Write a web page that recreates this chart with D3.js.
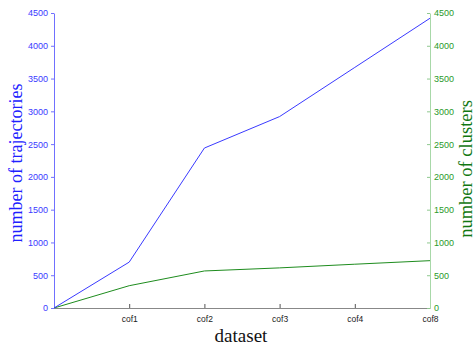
<!DOCTYPE html>
<html><head><meta charset="utf-8">
<script src="https://cdn.jsdelivr.net/npm/d3@7"></script>
<style>body{margin:0;background:#fff}svg{display:block}</style>
</head><body>
<script>
const categories = ["", "cof1", "cof2", "cof3", "cof4", "cof8"];
const trajectories = [0, 700, 2440, 2920, 3670, 4420];
const clusters = [0, 340, 565, 612, 668, 722];
const yTicks = [0, 500, 1000, 1500, 2000, 2500, 3000, 3500, 4000, 4500];

const W = 475, H = 345;
const m = {left: 54, right: 45, top: 13, bottom: 37};
const svg = d3.select("body").append("svg").attr("width", W).attr("height", H);

const x = d3.scalePoint().domain(categories).range([m.left, W - m.right]);
const yL = d3.scaleLinear().domain([0, 4500]).range([H - m.bottom, m.top]);
const yR = d3.scaleLinear().domain([0, 4500]).range([H - m.bottom, m.top]);

const tickFont = "'Liberation Sans', Arial, sans-serif";
const blue = "#3a3aff", green = "#1e8c1e";

// bottom axis
const gx = svg.append("g").attr("transform", `translate(0,${H - m.bottom})`)
  .call(d3.axisBottom(x).tickSize(-4).tickPadding(8).tickSizeOuter(0));
gx.select(".domain").attr("stroke", "#888");
gx.selectAll(".tick line").attr("stroke", "#555");
gx.selectAll(".tick").filter(d => d === "").remove();
gx.selectAll("text").attr("font-family", tickFont).attr("font-size", 8.5).attr("fill", "#222");

// left axis
const gl = svg.append("g").attr("transform", `translate(${m.left},0)`)
  .call(d3.axisLeft(yL).tickValues(yTicks).tickFormat(d3.format("d")).tickSize(3).tickPadding(3).tickSizeOuter(0));
gl.select(".domain").attr("stroke", "#7070ff");
gl.selectAll(".tick line").attr("stroke", "#7070ff");
gl.selectAll("text").attr("font-family", tickFont).attr("font-size", 9).attr("fill", "#3a3aff");

// right axis
const gr = svg.append("g").attr("transform", `translate(${W - m.right},0)`)
  .call(d3.axisRight(yR).tickValues(yTicks).tickFormat(d3.format("d")).tickSize(-3).tickPadding(4).tickSizeOuter(0));
gr.select(".domain").attr("stroke", "#a8d8a8");
gr.selectAll(".tick line").attr("stroke", "#8fc88f");
gr.selectAll("text").attr("font-family", tickFont).attr("font-size", 9).attr("fill", "#2a9a2a");

// lines
const lineL = d3.line().x((d, i) => x(categories[i])).y(d => yL(d));
const lineR = d3.line().x((d, i) => x(categories[i])).y(d => yR(d));
svg.append("path").datum(clusters).attr("d", lineR).attr("fill", "none").attr("stroke", green).attr("stroke-width", 1);
svg.append("path").datum(trajectories).attr("d", lineL).attr("fill", "none").attr("stroke", blue).attr("stroke-width", 1);

// titles
const serif = "'Liberation Serif', 'Times New Roman', serif";
svg.append("text").attr("x", 241).attr("y", 342)
  .attr("text-anchor", "middle").attr("font-family", serif).attr("font-size", 19).attr("fill", "#111").text("dataset");
svg.append("text").attr("transform", `translate(22,163) rotate(-90)`)
  .attr("text-anchor", "middle").attr("font-family", serif).attr("font-size", 18).attr("fill", "#2020ff").text("number of trajectories");
svg.append("text").attr("transform", `translate(472,169) rotate(-90)`)
  .attr("text-anchor", "middle").attr("font-family", serif).attr("font-size", 18.5).attr("fill", "#117711").text("number of clusters");
</script>
</body></html>
